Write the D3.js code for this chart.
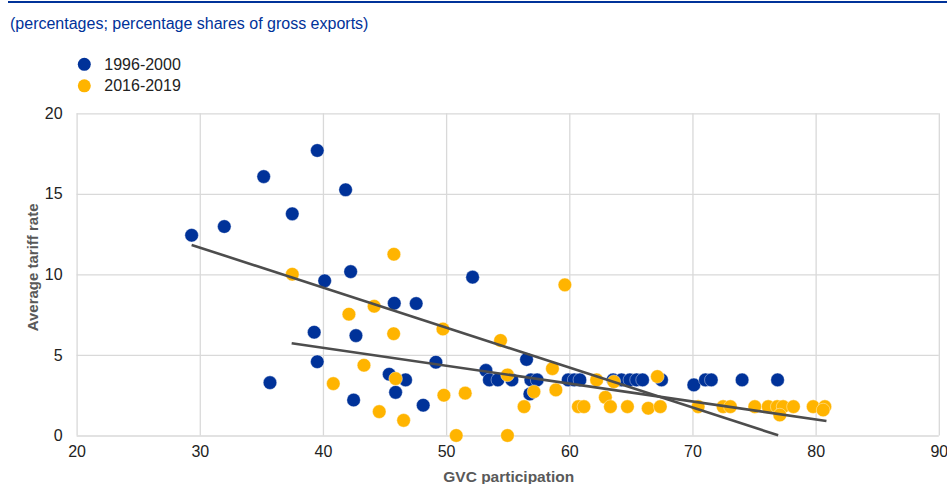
<!DOCTYPE html>
<html>
<head>
<meta charset="utf-8">
<script src="https://cdn.jsdelivr.net/npm/d3@7/dist/d3.min.js"></script>
<style>
  html, body { margin: 0; padding: 0; background: #fff; }
  svg { display: block; font-family: Arial, "Liberation Sans", sans-serif; }
</style>
</head>
<body>
<svg id="chart" width="947" height="484"></svg>
<script>
// ---- Data ----
const seriesNames = ["1996-2000", "2016-2019"];

const gvc1996 = [29.34, 31.99, 35.19, 37.51, 39.54, 41.84, 35.70, 39.29, 39.54, 40.14,
  42.25, 42.68, 42.49, 45.38, 45.79, 45.90, 46.71, 47.57, 48.14, 49.17,
  52.15, 53.23, 53.51, 54.20, 55.34, 56.53, 56.80, 56.88, 57.39, 59.91,
  60.40, 60.86, 63.56, 64.24, 64.92, 65.46, 65.95, 67.49, 70.11, 71.05,
  71.53, 74.03, 76.91];
const tariff1996 = [12.43, 12.97, 16.07, 13.76, 17.69, 15.25, 3.28, 6.41, 4.58, 9.60,
  10.17, 6.20, 2.20, 3.80, 8.21, 2.68, 3.45, 8.19, 1.88, 4.55,
  9.83, 4.04, 3.45, 3.45, 3.45, 4.72, 2.58, 3.45, 3.45, 3.45,
  3.45, 3.45, 3.45, 3.45, 3.45, 3.45, 3.45, 3.45, 3.14, 3.45,
  3.45, 3.45, 3.45];

const gvc2016 = [37.51, 45.76, 42.11, 44.16, 45.74, 49.74, 43.33, 40.84, 45.90, 44.57,
  46.55, 49.82, 51.55, 50.82, 54.42, 54.98, 54.98, 56.33, 57.13, 58.63,
  58.91, 59.64, 60.74, 61.19, 62.22, 62.93, 63.34, 63.62, 64.72, 66.41,
  67.15, 67.39, 70.46, 72.49, 73.08, 75.06, 76.15, 76.88, 77.36, 77.09,
  78.20, 79.80, 80.75, 80.61];
const tariff2016 = [10.01, 11.25, 7.53, 8.02, 6.32, 6.61, 4.36, 3.22, 3.53, 1.48,
  0.94, 2.50, 2.63, 0.00, 5.90, 3.76, 0.00, 1.79, 2.72, 4.15,
  2.83, 9.35, 1.79, 1.79, 3.45, 2.37, 1.79, 3.34, 1.79, 1.69,
  3.66, 1.79, 1.79, 1.79, 1.79, 1.79, 1.79, 1.79, 1.79, 1.27,
  1.79, 1.79, 1.79, 1.58];

// Linear trend lines (start and end points)
const trend1996X = [29.34, 76.96];
const trend1996Y = [11.83, 0.01];
const trend2016X = [37.46, 80.88];
const trend2016Y = [5.73, 0.90];

const xTicks = [20, 30, 40, 50, 60, 70, 80, 90];
const yTicks = [0, 5, 10, 15, 20];

const subtitle = "(percentages; percentage shares of gross exports)";
const xTitle = "GVC participation";
const yTitle = "Average tariff rate";

// ---- Drawing ----
const colors = ["#003299", "#FFB400"];
const svg = d3.select("#chart");

const x = d3.scaleLinear().domain([20, 90]).range([76.6, 938.8]);
const y = d3.scaleLinear().domain([0, 20]).range([435.5, 113.3]);

// top rule
svg.append("line").attr("x1", 8).attr("x2", 947).attr("y1", 2).attr("y2", 2)
  .attr("stroke", "#003299").attr("stroke-width", 2);

// subtitle
svg.append("text").attr("x", 10).attr("y", 29).attr("fill", "#003299")
  .attr("font-size", 16).text(subtitle);

// legend
seriesNames.forEach((name, i) => {
  const g = svg.append("g").attr("transform", `translate(84.3,${64.3 + i * 21.5})`);
  g.append("circle").attr("r", 6.5).attr("fill", colors[i]);
  g.append("text").attr("x", 20).attr("dy", "0.35em").attr("font-size", 16)
    .attr("fill", "#222").text(name);
});

// grid
const gridColor = "#d9d9d9";
const gx = d3.axisBottom(x).tickValues(xTicks).tickSize(y(20) - y(0)).tickFormat("");
svg.append("g").attr("transform", `translate(0,${y(0)})`).call(gx)
  .call(g => g.select(".domain").remove())
  .call(g => g.selectAll("line").attr("stroke", gridColor).attr("stroke-width", 1.3));
const gy = d3.axisLeft(y).tickValues(yTicks).tickSize(-(x(90) - x(20))).tickFormat("");
svg.append("g").attr("transform", `translate(${x(20)},0)`).call(gy)
  .call(g => g.select(".domain").remove())
  .call(g => g.selectAll("line").attr("stroke", gridColor).attr("stroke-width", 1.3));

// axis labels
const ax = d3.axisBottom(x).tickValues(xTicks).tickSize(0).tickPadding(10).tickFormat(d3.format("d"));
svg.append("g").attr("transform", `translate(0,${y(0)})`).call(ax)
  .call(g => g.select(".domain").remove())
  .call(g => g.selectAll("text").attr("font-size", 16).attr("fill", "#222")
    .attr("font-family", "Arial, 'Liberation Sans', sans-serif"));
const ay = d3.axisLeft(y).tickValues(yTicks).tickSize(0).tickPadding(14).tickFormat(d3.format("d"));
svg.append("g").attr("transform", `translate(${x(20)},0)`).call(ay)
  .call(g => g.select(".domain").remove())
  .call(g => g.selectAll("text").attr("font-size", 16).attr("fill", "#222")
    .attr("font-family", "Arial, 'Liberation Sans', sans-serif"));

// axis titles
svg.append("text").attr("x", (x(20) + x(90)) / 2 + 1).attr("y", 482)
  .attr("text-anchor", "middle").attr("font-size", 15.5).attr("font-weight", "bold")
  .attr("fill", "#595959").text(xTitle);
svg.append("text").attr("transform", `translate(38,${(y(0) + y(20)) / 2 - 7}) rotate(-90)`)
  .attr("text-anchor", "middle").attr("font-size", 15).attr("font-weight", "bold")
  .attr("fill", "#595959").text(yTitle);

// points
const s1 = gvc1996.map((v, i) => [v, tariff1996[i]]);
const s2 = gvc2016.map((v, i) => [v, tariff2016[i]]);
[s1, s2].forEach((s, k) => {
  svg.append("g").selectAll("circle").data(s).join("circle")
    .attr("cx", d => x(d[0])).attr("cy", d => y(d[1])).attr("r", 6.8)
    .attr("fill", colors[k]).attr("stroke", "#fff").attr("stroke-width", 0.4);
});

// trend lines
const line = d3.line().x(d => x(d[0])).y(d => y(d[1]));
[[trend1996X, trend1996Y], [trend2016X, trend2016Y]].forEach(([tx, ty]) => {
  svg.append("path").datum(tx.map((v, i) => [v, ty[i]]))
    .attr("d", line).attr("fill", "none").attr("stroke", "#4d4d4d").attr("stroke-width", 2.6);
});
</script>
</body>
</html>
